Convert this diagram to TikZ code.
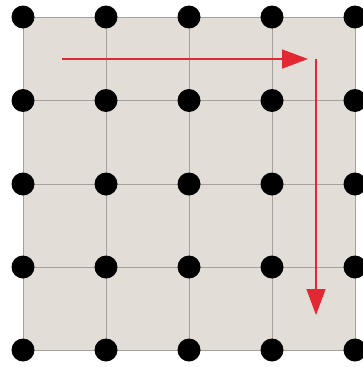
\documentclass[tikz,border=0pt]{standalone}
\usetikzlibrary{arrows.meta}
\definecolor{tilebg}{RGB}{227,221,215}
\definecolor{gridgray}{RGB}{165,160,156}
\definecolor{arrowred}{RGB}{226,40,50}
\tikzset{
  dot/.style={circle,fill=black,minimum size=23pt,inner sep=0pt},
  gridline/.style={draw=gridgray,line width=0.9pt},
  redarrow/.style={draw=arrowred,line width=1.6pt,-{Triangle[length=26pt,width=19pt]}}
}
\begin{document}
\begin{tikzpicture}[x=1pt,y=-1pt]
\useasboundingbox (0,0) rectangle (362,367);
\fill[tilebg] (23,17) rectangle (356,351);
\foreach \i/\x in {0/23,1/106,2/189,3/272,4/355}{
  \draw[gridline] (\x,17) -- (\x,350);
}
\foreach \j/\y in {0/17,1/100.5,2/184,3/267,4/350}{
  \draw[gridline] (23,\y) -- (355,\y);
}
\foreach \i/\x in {0/23,1/106,2/189,3/272,4/355}{
  \foreach \j/\y in {0/17,1/100.5,2/184,3/267,4/350}{
    \node[dot] (d-\i-\j) at (\x,\y) {};
  }
}
\coordinate (hs) at (62,59);
\coordinate (he) at (308,59);
\coordinate (vs) at (316,59);
\coordinate (ve) at (316,315);
\draw[redarrow] (hs) -- (he);
\draw[redarrow] (vs) -- (ve);
\end{tikzpicture}
\end{document}
